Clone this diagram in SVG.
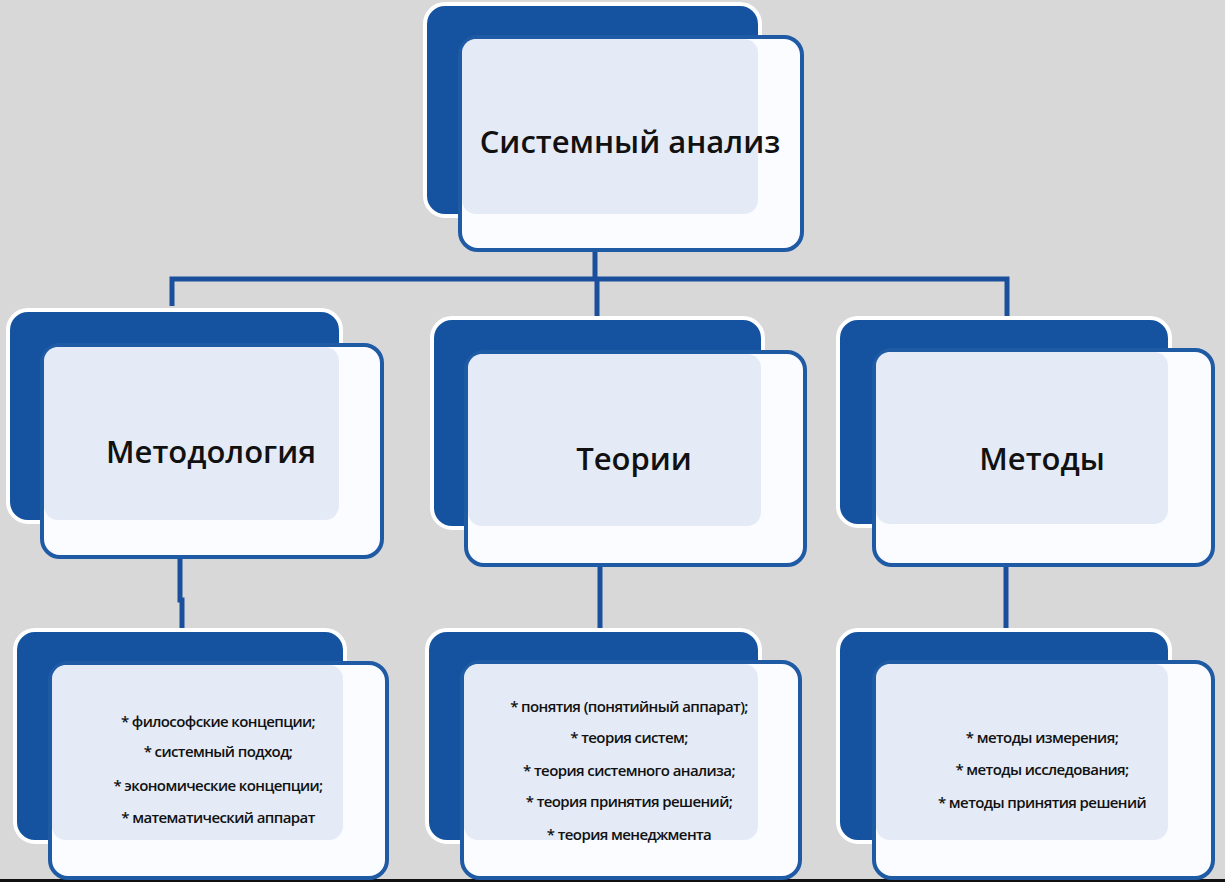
<svg xmlns="http://www.w3.org/2000/svg" width="1225" height="882" viewBox="0 0 1225 882">
<style>
.back{fill:#1553a0;stroke:#ffffff;stroke-width:4}
.front{fill:#fafcff;stroke:#1f5aa5;stroke-width:4}
.tint{fill:#e4ebf6}
.conn{fill:none;stroke:#1a4f9c;stroke-width:5}
.t{font-family:"Open Sans","Liberation Sans",sans-serif;fill:#111;text-anchor:middle}
.h{font-size:31px;font-weight:600}
.s{font-size:15px;font-weight:600;letter-spacing:-0.6px}
</style>
<rect width="1225" height="882" fill="#d8d8d8"/>
<rect x="0" y="879" width="1225" height="3" fill="#111"/>
<g id="connectors">
<path class="conn" d="M595 250V279M172 306V279H1007V318M597 279V318"/>
<path class="conn" d="M180 557V600H182V628M600 565V630M1006 565V630"/>
</g>
<g id="root">
<rect class="back" x="425" y="4" width="335" height="212" rx="20"/>
<rect class="front" x="460" y="37" width="342" height="213" rx="18"/>
<rect class="tint" x="462" y="39" width="296" height="175" rx="14"/>
<text class="t h" x="630" y="153">Системный анализ</text>
</g>
<g id="metodologiya">
<rect class="back" x="8" y="310" width="333" height="212" rx="20"/>
<rect class="front" x="42" y="345" width="340" height="212" rx="18"/>
<rect class="tint" x="44" y="347" width="295" height="173" rx="14"/>
<text class="t h" x="211" y="463">Методология</text>
</g>
<g id="teorii">
<rect class="back" x="432" y="318" width="331" height="210" rx="20"/>
<rect class="front" x="466" y="352" width="339" height="213" rx="18"/>
<rect class="tint" x="468" y="354" width="293" height="172" rx="14"/>
<text class="t h" x="634" y="470">Теории</text>
</g>
<g id="metody">
<rect class="back" x="838" y="318" width="332" height="208" rx="20"/>
<rect class="front" x="874" y="350" width="339" height="215" rx="18"/>
<rect class="tint" x="876" y="352" width="292" height="172" rx="14"/>
<text class="t h" x="1042" y="470">Методы</text>
</g>
<g id="metodologiya-list">
<rect class="back" x="15" y="630" width="330" height="212" rx="20"/>
<rect class="front" x="50" y="663" width="337" height="215" rx="18"/>
<rect class="tint" x="52" y="665" width="291" height="175" rx="14"/>
<text class="t s" x="218" y="727">* философские концепции;</text>
<text class="t s" x="218" y="757">* системный подход;</text>
<text class="t s" x="218" y="791">* экономические концепции;</text>
<text class="t s" x="218" y="823">* математический аппарат</text>
</g>
<g id="teorii-list">
<rect class="back" x="427" y="630" width="333" height="212" rx="20"/>
<rect class="front" x="462" y="662" width="338" height="216" rx="18"/>
<rect class="tint" x="464" y="664" width="294" height="176" rx="14"/>
<text class="t s" x="629" y="712">* понятия (понятийный аппарат);</text>
<text class="t s" x="629" y="743">* теория систем;</text>
<text class="t s" x="629" y="776">* теория системного анализа;</text>
<text class="t s" x="629" y="807">* теория принятия решений;</text>
<text class="t s" x="629" y="840">* теория менеджмента</text>
</g>
<g id="metody-list">
<rect class="back" x="838" y="630" width="332" height="212" rx="20"/>
<rect class="front" x="874" y="662" width="339" height="216" rx="18"/>
<rect class="tint" x="876" y="664" width="292" height="176" rx="14"/>
<text class="t s" x="1042" y="743">* методы измерения;</text>
<text class="t s" x="1042" y="775">* методы исследования;</text>
<text class="t s" x="1042" y="808">* методы принятия решений</text>
</g>
</svg>
